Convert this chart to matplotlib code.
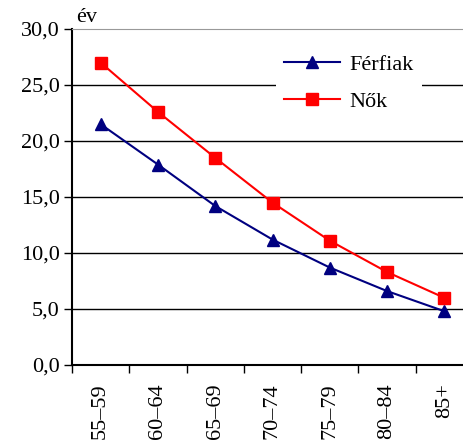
import numpy as np
import matplotlib.pyplot as plt

plt.rcParams['font.family'] = ['Liberation Serif', 'DejaVu Serif']

age_groups = ['55–59', '60–64', '65–69', '70–74', '75–79', '80–84', '85+']
men = [21.5, 17.9, 14.2, 11.2, 8.7, 6.6, 4.8]
women = [27.0, 22.6, 18.5, 14.5, 11.1, 8.3, 6.0]
yticks = [0, 5, 10, 15, 20, 25, 30]

fig = plt.figure(figsize=(4.64, 4.48), dpi=100)
ax = fig.add_axes([72/464, 1 - 365/448, (473 - 72)/464, (365 - 29)/448])

x = np.arange(len(age_groups))
ax.plot(x, men, color='#000080', lw=1.5, marker='^', ms=9, label='Férfiak', zorder=3)
ax.plot(x, women, color='#ff0000', lw=1.5, marker='s', ms=8, label='Nők', zorder=3)

ax.set_xlim(-0.5, len(age_groups) - 0.5)
ax.set_ylim(0, 30)
ax.set_yticks(yticks)
ax.set_yticklabels([f'{v:.1f}'.replace('.', ',') for v in yticks], fontsize=16)
for v in yticks[1:-1]:
    ax.axhline(v, color='black', lw=1, zorder=1)

ax.set_xticks(np.arange(len(age_groups) + 1) - 0.5)
ax.set_xticklabels([])
ax.set_xticks(x, minor=True)
ax.set_xticklabels(age_groups, minor=True, rotation=90, fontsize=16)
ax.tick_params(axis='x', which='minor', length=0, pad=13)
ax.tick_params(axis='x', which='major', length=6, width=1)
ax.tick_params(axis='y', length=6, width=1, pad=3)

ax.spines['right'].set_visible(False)
ax.spines['top'].set_color('#999999')
ax.spines['left'].set_linewidth(1.5)
ax.spines['bottom'].set_linewidth(1.5)

ax.text(0.01, 1.005, 'év', transform=ax.transAxes, fontsize=16, ha='left', va='bottom')

leg = ax.legend(loc='upper left', bbox_to_anchor=(0.48, 0.985), frameon=True,
                fontsize=16, handlelength=2.5, handletextpad=0.4,
                borderpad=0.4, labelspacing=0.75)
leg.get_frame().set_edgecolor('none')
leg.get_frame().set_facecolor('white')
leg.get_frame().set_alpha(1)

fig.savefig('out.png', dpi=100)
